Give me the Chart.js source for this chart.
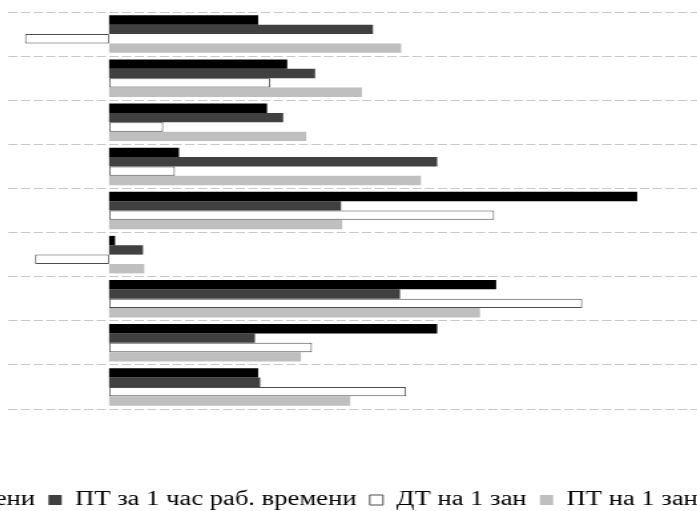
<!DOCTYPE html>
<html>
<head>
<meta charset="utf-8">
<script src="https://cdn.jsdelivr.net/npm/chart.js@4/dist/chart.umd.min.js"></script>
<style>
  html, body { margin: 0; padding: 0; background: #fff; overflow: hidden; width: 697px; height: 511px; }
  /* the reference is a horizontally stretched crop of a wider chart */
  #wrap { position: absolute; left: -452px; top: 0; transform: scaleX(1.33); transform-origin: 0 0; }
</style>
</head>
<body>
<div id="wrap"><canvas id="chart" width="1000" height="520" style="width:1000px;height:520px"></canvas></div>
<script>
/** Categories (their labels are cropped out of the reference). */
const categories = ['1', '2', '3', '4', '5', '6', '7', '8', '9'];

/** Series names. */
const seriesNames = [
  'ДТ за 1 час раб. времени',
  'ПТ за 1 час раб. времени',
  'ДТ на 1 зан',
  'ПТ на 1 зан',
];

/** Series values. */
const dtHour = [36.9, 44.1, 39.1, 17.3, 130.7, 1.5, 95.8, 81.2, 36.9];
const ptHour = [65.3, 51.0, 43.1, 81.2, 57.4, 8.4, 72.0, 36.1, 37.4];
const dtEmployed = [-20.8, 39.9, 13.4, 16.3, 95.3, -18.3, 117.1, 50.2, 73.5];
const ptEmployed = [72.3, 62.6, 48.8, 77.2, 57.7, 8.7, 91.8, 47.5, 59.7];

/** Value axis range. */
const axisMin = -25;
const axisMax = 190.3;

const config = {
  type: 'bar',
  data: {
    labels: categories,
    datasets: [
      { label: seriesNames[0], data: dtHour, backgroundColor: '#000000', borderWidth: 0 },
      { label: seriesNames[1], data: ptHour, backgroundColor: '#404040', borderWidth: 0 },
      { label: seriesNames[2], data: dtEmployed, backgroundColor: '#ffffff', borderColor: '#4d4d4d', borderWidth: 1, borderSkipped: false },
      { label: seriesNames[3], data: ptEmployed, backgroundColor: '#bfbfbf', borderWidth: 0 },
    ],
  },
  options: {
    indexAxis: 'y',
    responsive: false,
    animation: false,
    devicePixelRatio: 1,
    layout: { padding: { top: 12, right: 0, left: 0, bottom: 0 } },
    datasets: { bar: { categoryPercentage: 0.85, barPercentage: 1 } },
    scales: {
      x: {
        min: axisMin,
        max: axisMax,
        ticks: { display: false },
        grid: { display: false },
        border: { display: false },
        afterFit: (scale) => { scale.height = 71; },
      },
      y: {
        ticks: { display: false },
        grid: { color: '#c8c8c8', lineWidth: 1, offset: true, drawTicks: false },
        border: { display: false, dash: [7, 2.5] },
        afterFit: (scale) => { scale.width = 345.9; },
      },
    },
    plugins: {
      tooltip: { enabled: false },
      legend: {
        position: 'bottom',
        labels: {
          color: '#000000',
          font: { family: 'Liberation Serif', size: 20 },
          boxWidth: 10,
          boxHeight: 10,
          padding: 10,
        },
      },
    },
  },
};

/** Wait for the serif font before drawing. */
document.fonts.load('20px "Liberation Serif"').finally(() => {
  new Chart(document.getElementById('chart').getContext('2d'), config);
});
</script>
</body>
</html>
